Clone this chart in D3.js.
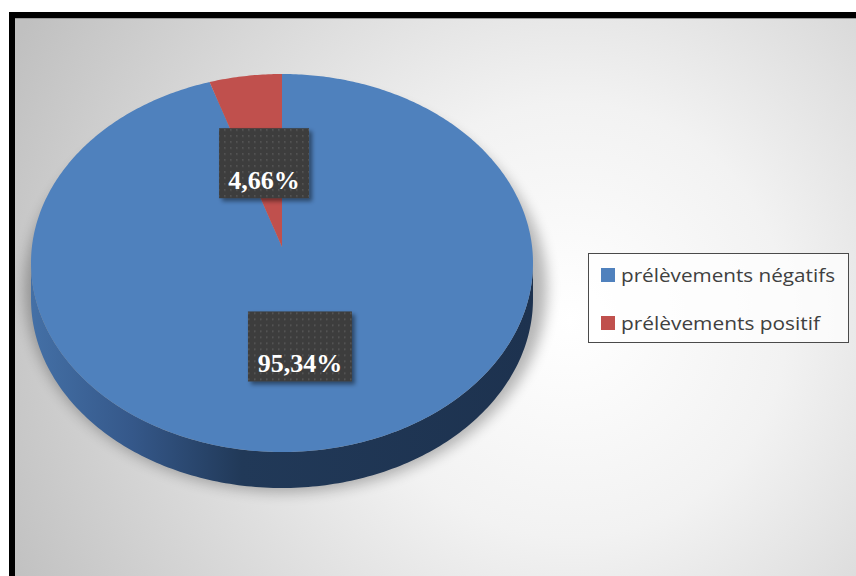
<!DOCTYPE html>
<html>
<head>
<meta charset="utf-8">
<script src="https://cdn.jsdelivr.net/npm/d3@7"></script>
<style>
  html, body { margin: 0; padding: 0; background: #fff; }
  svg { display: block; }
</style>
</head>
<body>
<svg width="856" height="576"></svg>
<script>
// data
const categories = ['prélèvements négatifs', 'prélèvements positif'];
const values = [95.34, 4.66];
const valueLabels = ['95,34%', '4,66%'];
const colors = ['#4f81bd', '#c0504d'];

const svg = d3.select('svg');
const defs = svg.append('defs');

// background gradient
const bg = defs.append('radialGradient').attr('id', 'bg')
    .attr('gradientUnits', 'userSpaceOnUse')
    .attr('cx', 570).attr('cy', 320).attr('r', 620);
bg.append('stop').attr('offset', '0').attr('stop-color', '#ffffff');
bg.append('stop').attr('offset', '0.35').attr('stop-color', '#f2f2f2');
bg.append('stop').attr('offset', '1').attr('stop-color', '#c0c0c0');

// side gradient
const side = defs.append('linearGradient').attr('id', 'side')
    .attr('gradientUnits', 'userSpaceOnUse')
    .attr('x1', 31).attr('x2', 533).attr('y1', 0).attr('y2', 0);
side.append('stop').attr('offset', '0').attr('stop-color', '#4470a6');
side.append('stop').attr('offset', '0.2').attr('stop-color', '#35588a');
side.append('stop').attr('offset', '0.42').attr('stop-color', '#213958');
side.append('stop').attr('offset', '1').attr('stop-color', '#1d324f');

defs.append('filter').attr('id', 'blur').attr('x', '-20%').attr('y', '-20%')
    .attr('width', '140%').attr('height', '140%')
  .append('feGaussianBlur').attr('stdDeviation', 7);

const ds = defs.append('filter').attr('id', 'boxshadow')
    .attr('x', '-20%').attr('y', '-20%').attr('width', '150%').attr('height', '150%');
ds.append('feDropShadow').attr('dx', 3).attr('dy', 3).attr('stdDeviation', 2)
    .attr('flood-color', '#000').attr('flood-opacity', 0.45);

const pat = defs.append('pattern').attr('id', 'dots')
    .attr('patternUnits', 'userSpaceOnUse').attr('width', 6).attr('height', 6);
pat.append('rect').attr('width', 6).attr('height', 6).attr('fill', '#3d3d3d');
pat.append('rect').attr('x', 2).attr('y', 2).attr('width', 1.5).attr('height', 1.5).attr('fill', '#5a5a5a');

// chart area with frame
svg.append('rect')
    .attr('x', 12).attr('y', 15).attr('width', 900).attr('height', 600)
    .attr('fill', 'url(#bg)');
svg.append('line').attr('x1', 15).attr('x2', 856).attr('y1', 18.5).attr('y2', 18.5)
    .attr('stroke', '#9a9a9a').attr('stroke-width', 1);

// pie geometry (3D perspective: tip above the ellipse centre)
const cx = 282, cyE = 263, rx = 251, ry = 189, depth = 36;
const tip = [282, 247];
const ept = (a, dy = 0) => [cx + rx * Math.sin(a), cyE - ry * Math.cos(a) + dy];

const pie = d3.pie().sort(null).value(d => d)(values);

// shadow under pie
svg.append('ellipse')
    .attr('cx', cx + 4).attr('cy', cyE + 26).attr('rx', rx + 10).attr('ry', ry + 14)
    .attr('fill', '#000').attr('opacity', 0.28).attr('filter', 'url(#blur)');

// side (lower half of the ellipse extruded)
const sideSteps = d3.range(0, 181).map(i => Math.PI / 2 + i * Math.PI / 180);
const sidePts = sideSteps.map(a => ept(a))
    .concat(sideSteps.slice().reverse().map(a => ept(a, depth)));
svg.append('path')
    .attr('d', d3.line()(sidePts) + 'Z')
    .attr('fill', 'url(#side)');

// top face slices
const slicePath = d => {
  const n = Math.max(2, Math.ceil((d.endAngle - d.startAngle) * 90));
  const pts = [tip];
  for (let i = 0; i <= n; i++) {
    pts.push(ept(d.startAngle + (d.endAngle - d.startAngle) * i / n));
  }
  return d3.line()(pts) + 'Z';
};
svg.selectAll('path.slice')
  .data(pie).enter()
  .append('path')
    .attr('class', 'slice')
    .attr('d', slicePath)
    .attr('fill', (d, i) => colors[i]);

// data labels
const labelPos = d => {
  const m = (d.startAngle + d.endAngle) / 2;
  const p = ept(m);
  const f = 0.49;
  return [tip[0] + (p[0] - tip[0]) * f, tip[1] + (p[1] - tip[1]) * f];
};
const lab = svg.selectAll('g.label')
  .data(pie).enter()
  .append('g')
    .attr('class', 'label')
    .attr('transform', d => {
      const [x, y] = labelPos(d);
      return `translate(${x},${y})`;
    });
lab.append('rect')
    .attr('x', (d, i) => i === 0 ? -52 : -45)
    .attr('y', -35).attr('height', 70)
    .attr('width', (d, i) => i === 0 ? 104 : 90)
    .attr('fill', 'url(#dots)')
    .attr('filter', 'url(#boxshadow)');
lab.append('text')
    .attr('x', 0).attr('y', 26)
    .attr('text-anchor', 'middle')
    .attr('font-family', '"Liberation Serif", "Times New Roman", serif')
    .attr('font-weight', 'bold')
    .attr('font-size', 26)
    .attr('fill', '#fff')
    .text((d, i) => valueLabels[i]);

// legend
const legend = svg.append('g').attr('transform', 'translate(588.5,253.5)');
legend.append('rect')
    .attr('width', 260).attr('height', 89)
    .attr('fill', '#ffffff').attr('fill-opacity', 0.75)
    .attr('stroke', '#4a4a4a').attr('stroke-width', 1);
const item = legend.selectAll('g.item')
  .data(categories).enter()
  .append('g')
    .attr('class', 'item')
    .attr('transform', (d, i) => `translate(12.5,${14.5 + i * 48})`);
item.append('rect')
    .attr('width', 14).attr('height', 14)
    .attr('fill', (d, i) => colors[i]);
item.append('text')
    .attr('x', 20).attr('y', 13.5)
    .attr('font-family', '"Open Sans", Lato, sans-serif')
    .attr('font-size', 18.5)
    .attr('fill', '#404040')
    .attr('textLength', (d, i) => i === 0 ? 214 : 199)
    .attr('lengthAdjust', 'spacingAndGlyphs')
    .text(d => d);

// frame
svg.append('rect')
    .attr('x', 12).attr('y', 15).attr('width', 900).attr('height', 600)
    .attr('fill', 'none').attr('stroke', '#000').attr('stroke-width', 6);
</script>
</body>
</html>
